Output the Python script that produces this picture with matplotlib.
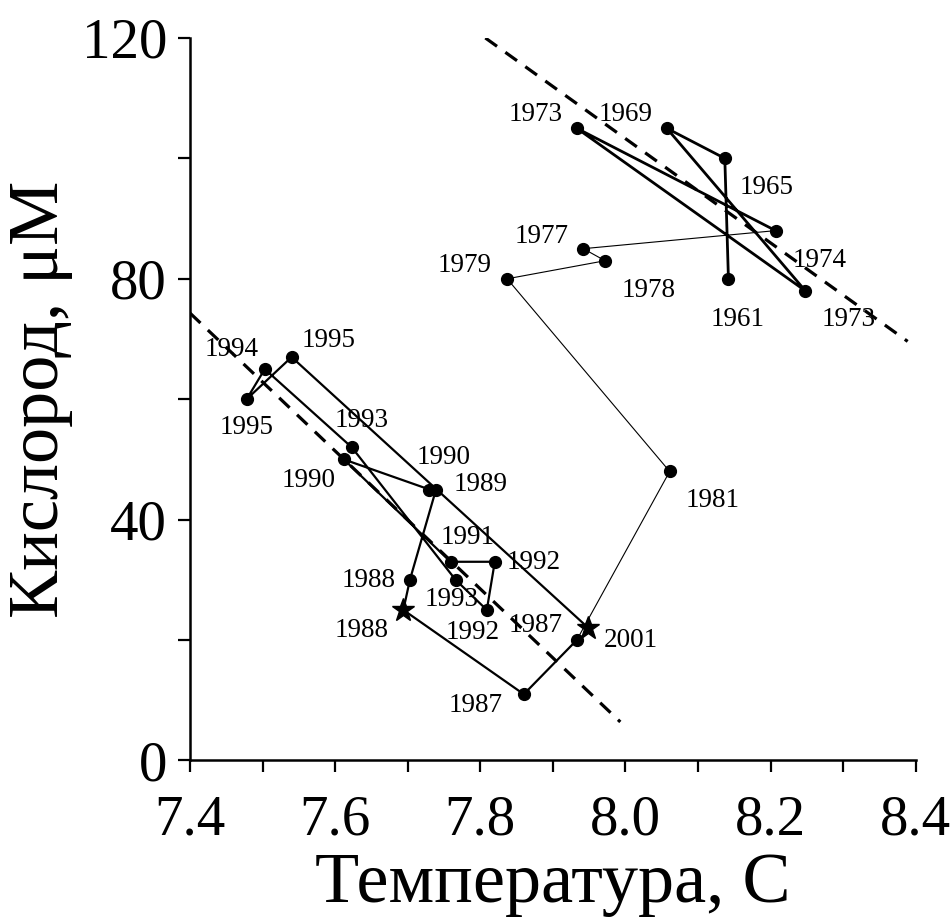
import numpy as np
import matplotlib
matplotlib.use('Agg')
import matplotlib.pyplot as plt
from matplotlib.ticker import MultipleLocator

plt.rcParams['font.family'] = ['Liberation Serif', 'DejaVu Serif']

# observations in time order
years = [1961, 1965, 1969, 1973, 1973, 1974, 1977, 1978, 1979, 1981,
         1987, 1987, 1988, 1988, 1989, 1990, 1990, 1991, 1992, 1992,
         1993, 1993, 1994, 1995, 1995, 2001]
temp = [8.142, 8.137, 8.057, 8.248, 7.933, 8.207, 7.942, 7.972, 7.837, 8.061,
        7.933, 7.860, 7.694, 7.703, 7.739, 7.730, 7.612, 7.759, 7.820, 7.809,
        7.766, 7.623, 7.503, 7.478, 7.540, 7.949]
oxygen = [80, 100, 105, 78, 105, 88, 85, 83, 80, 48,
          20, 11, 25, 30, 45, 45, 50, 33, 33, 25,
          30, 52, 65, 60, 67, 22]
star_idx = [12, 25]  # 1988 and 2001 marked with stars

# label placement (data coords)
label_x = [8.154, 8.195, 8.000, 8.308, 7.876, 8.267, 7.885, 8.032, 7.779, 8.120,
           7.876, 7.793, 7.637, 7.646, 7.800, 7.749, 7.563, 7.782, 7.874, 7.789,
           7.761, 7.637, 7.457, 7.478, 7.591, 8.007]
label_y = [73.3, 95.2, 107.3, 73.3, 107.3, 83.0, 87.1, 78.0, 82.2, 43.2,
           22.4, 9.1, 21.6, 29.9, 45.9, 50.3, 46.5, 37.1, 32.9, 21.3,
           26.8, 56.4, 68.3, 55.3, 69.7, 19.9]

# trend lines
trend_upper_x = [7.807, 8.389]
trend_upper_y = [120, 69.6]
trend_lower_x = [7.40, 7.993]
trend_lower_y = [74.3, 6.4]

fig = plt.figure(figsize=(9.53, 9.21), dpi=100)
ax = fig.add_axes([0.1994, 0.1743, 0.7614, 0.7845])

# segments: (start, end, linewidth)
parts = [(0, 5, 2.0), (5, 10, 0.8), (10, 25, 1.6)]
for a, b, lw in parts:
    ax.plot(temp[a:b + 1], oxygen[a:b + 1], color='black', lw=lw, zorder=2)

for i in range(len(years)):
    if i in star_idx:
        ax.plot(temp[i], oxygen[i], marker='*', color='black', ms=17, zorder=3)
    else:
        ax.plot(temp[i], oxygen[i], marker='o', color='black', ms=8.5, zorder=3)
    ax.text(label_x[i], label_y[i], str(years[i]), ha='center', va='center',
            fontsize=19.5, zorder=4)

ax.plot(trend_upper_x, trend_upper_y, color='black', lw=2.3, dashes=(4.5, 3.2), zorder=1)
ax.plot(trend_lower_x, trend_lower_y, color='black', lw=2.3, dashes=(4.5, 3.2), zorder=1)

ax.set_xlim(7.4, 8.4)
ax.set_ylim(0, 120)
ax.set_xticks(np.arange(7.4, 8.41, 0.2))
ax.set_xticklabels(['7.4', '7.6', '7.8', '8.0', '8.2', '8.4'])
ax.xaxis.set_minor_locator(MultipleLocator(0.1))
ax.yaxis.set_major_locator(MultipleLocator(40))
ax.yaxis.set_minor_locator(MultipleLocator(20))

for s in ['top', 'right']:
    ax.spines[s].set_visible(False)
for s in ['left', 'bottom']:
    ax.spines[s].set_linewidth(1.8)
ax.tick_params(which='both', direction='out', length=8.6, width=1.6, labelsize=41)
ax.tick_params(axis='x', pad=16)
ax.tick_params(axis='y', pad=8)

ax.set_xlabel('Температура, С', fontsize=52, labelpad=4)
ax.set_ylabel('Кислород, μM', fontsize=52, labelpad=6)

fig.savefig('out.png', dpi=100)
